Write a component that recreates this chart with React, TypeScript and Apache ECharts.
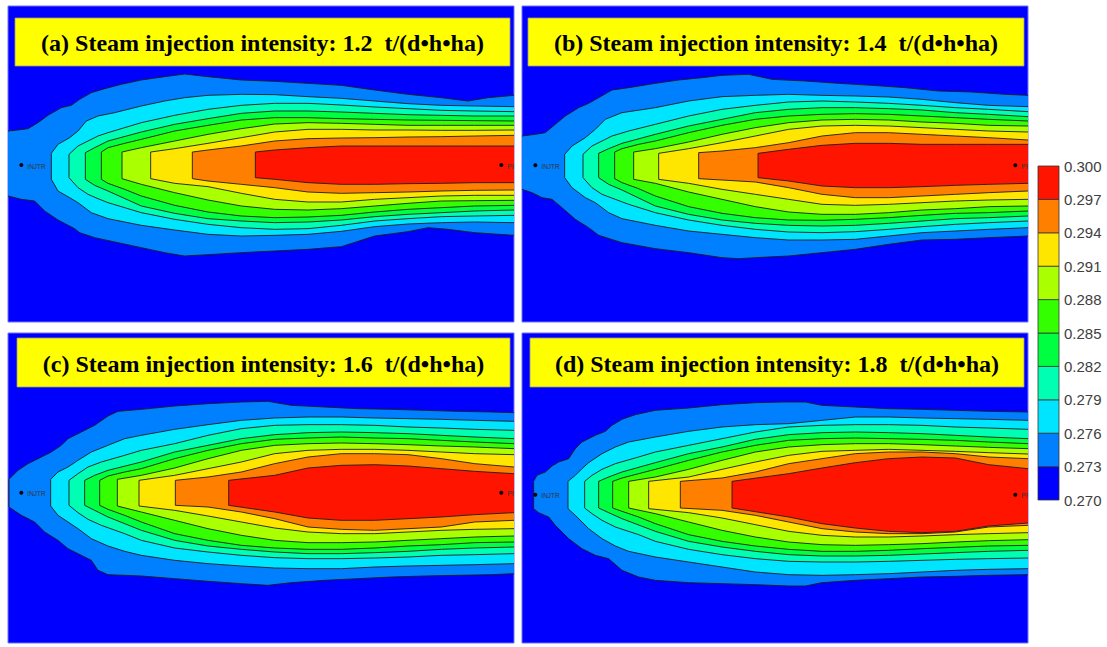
import React, { useEffect, useRef } from "react";
import * as echarts from "echarts";

// ---------- data (contour outlines, in grid units) ----------
const LEVELS = [270, 273, 276, 279, 282, 285, 288, 291, 294, 297, 300]; // x 0.001
const LEVEL_COLORS = [
  "#0000FF", "#0080FF", "#00E5FF", "#00FFB2", "#00FF40",
  "#33FF00", "#AAFF00", "#FFE600", "#FF8000", "#FF1400",
];
const TITLES = [
  "(a) Steam injection intensity: 1.2  t/(d•h•ha)",
  "(b) Steam injection intensity: 1.4  t/(d•h•ha)",
  "(c) Steam injection intensity: 1.6  t/(d•h•ha)",
  "(d) Steam injection intensity: 1.8  t/(d•h•ha)",
];
const WELL_NAMES = ["INJTR", "PR"];
const WELL_X = [40, 1480];
const WELL_Y = [297, 298, 302, 308];

// Panel (a)
const A_TOP = [
  [[0,195],[30,192],[60,188],[90,170],[120,148],[160,125],[190,118],[215,100],[250,80],[290,68],[340,55],[400,42],[470,32],[530,24],[600,32],[700,42],[800,46],[900,52],[1000,58],[1100,72],[1200,85],[1300,95],[1380,105],[1440,95],[1518,88]],
  [[130,262],[150,235],[185,215],[210,195],[235,165],[270,150],[320,140],[400,120],[470,105],[530,95],[600,88],[700,85],[800,86],[900,92],[1000,97],[1100,105],[1200,113],[1300,118],[1400,120],[1518,122]],
  [[183,265],[210,240],[240,225],[270,210],[300,200],[400,170],[500,148],[600,130],[700,118],[800,112],[900,112],[1000,117],[1100,123],[1200,128],[1300,133],[1400,135],[1518,137]],
  [[232,260],[260,245],[300,225],[400,198],[500,175],[600,158],[700,142],[800,135],[900,135],[1000,138],[1100,142],[1200,146],[1300,148],[1400,150],[1518,150]],
  [[280,258],[300,245],[350,232],[400,220],[500,195],[600,178],[700,162],[800,155],[900,155],[1000,158],[1100,160],[1200,162],[1300,163],[1400,164],[1518,165]],
  [[342,258],[400,245],[500,225],[600,205],[700,188],[800,174],[900,170],[1000,172],[1100,175],[1200,178],[1300,178],[1400,178],[1518,178]],
  [[428,258],[500,248],[600,232],[700,215],[800,198],[900,190],[1000,190],[1100,192],[1200,192],[1300,193],[1400,193],[1518,192]],
  [[553,258],[600,252],[700,240],[800,225],[900,218],[1000,216],[1100,215],[1200,213],[1300,212],[1400,210],[1518,208]],
  [[742,258],[800,252],[900,245],[1000,240],[1100,240],[1200,240],[1300,240],[1400,240],[1518,240]],
];
const A_BOT = [
  [[0,390],[40,400],[80,405],[110,435],[150,462],[200,488],[215,500],[260,515],[330,530],[400,545],[470,560],[530,570],[600,566],[700,560],[800,555],[900,550],[1000,542],[1100,510],[1200,497],[1260,485],[1320,490],[1400,500],[1518,508]],
  [[130,340],[150,375],[185,395],[210,410],[250,440],[300,458],[400,478],[500,492],[600,505],[700,510],[800,508],[900,505],[1000,496],[1100,482],[1200,474],[1300,470],[1400,468],[1518,470]],
  [[183,335],[210,365],[240,385],[270,398],[300,410],[400,440],[500,460],[600,475],[700,485],[800,490],[900,488],[1000,478],[1100,465],[1200,458],[1300,452],[1400,450],[1518,448]],
  [[232,340],[260,358],[300,375],[400,420],[500,442],[600,458],[700,465],[800,470],[900,468],[1000,462],[1100,452],[1200,445],[1300,440],[1400,435],[1518,432]],
  [[280,340],[300,352],[350,370],[400,390],[500,418],[600,438],[700,450],[800,455],[900,453],[1000,448],[1100,438],[1200,430],[1300,425],[1400,420],[1518,418]],
  [[342,338],[400,355],[500,380],[600,402],[700,420],[800,430],[900,432],[1000,428],[1100,420],[1200,412],[1300,405],[1400,404],[1518,403]],
  [[428,338],[500,352],[600,362],[700,382],[800,400],[900,408],[1000,408],[1100,400],[1200,395],[1300,390],[1400,388],[1518,388]],
  [[553,338],[600,345],[700,355],[800,365],[900,378],[1000,382],[1100,380],[1200,378],[1300,375],[1400,373],[1518,372]],
  [[742,335],[800,340],[900,350],[1000,355],[1100,355],[1200,353],[1300,352],[1400,350],[1518,350]],
];

// Panel (b)
const B_TOP = [
  [[0,210],[40,205],[70,200],[100,175],[130,150],[170,125],[200,112],[230,95],[270,72],[320,65],[400,52],[470,42],[540,35],[600,28],[680,25],[750,40],[850,45],[950,52],[1050,58],[1150,65],[1250,75],[1350,78],[1450,85],[1518,88]],
  [[128,265],[150,240],[190,215],[220,190],[250,160],[300,140],[400,125],[500,105],[600,92],[700,88],[800,85],[900,88],[1000,90],[1100,93],[1200,100],[1300,110],[1400,118],[1518,122]],
  [[183,265],[210,240],[240,225],[270,210],[320,195],[400,175],[500,150],[600,130],[700,118],[800,108],[900,105],[1000,108],[1100,112],[1200,118],[1300,125],[1400,130],[1518,137]],
  [[230,262],[260,248],[300,232],[400,205],[500,180],[600,160],[700,140],[800,130],[900,125],[1000,125],[1100,128],[1200,132],[1300,140],[1400,145],[1518,152]],
  [[278,258],[300,248],[350,235],[400,225],[500,200],[600,178],[700,160],[800,150],[900,145],[1000,143],[1100,145],[1200,150],[1300,155],[1400,160],[1518,165]],
  [[335,258],[400,248],[500,228],[600,205],[700,185],[800,170],[900,162],[1000,160],[1100,162],[1200,168],[1300,172],[1400,178],[1518,180]],
  [[410,262],[500,248],[600,230],[700,210],[800,190],[900,180],[1000,178],[1100,180],[1200,185],[1300,190],[1400,195],[1518,198]],
  [[530,260],[600,255],[700,245],[800,230],[900,210],[1000,200],[1100,200],[1200,205],[1300,210],[1400,215],[1518,222]],
  [[708,262],[800,250],[900,238],[1000,232],[1100,232],[1200,235],[1300,235],[1400,235],[1518,235]],
];
const B_BOT = [
  [[0,370],[30,380],[60,395],[90,400],[120,425],[160,460],[200,485],[230,508],[300,530],[400,548],[500,560],[600,575],[650,578],[700,575],[800,570],[900,560],[1000,550],[1100,535],[1200,522],[1300,520],[1400,515],[1518,510]],
  [[128,335],[150,365],[190,395],[220,410],[260,440],[300,458],[400,478],[500,495],[600,505],[700,515],[800,522],[900,522],[1000,520],[1100,510],[1200,500],[1300,495],[1400,490],[1518,485]],
  [[183,335],[210,365],[240,385],[280,400],[320,415],[400,440],[500,462],[600,478],[700,490],[800,498],[900,500],[1000,497],[1100,490],[1200,482],[1300,475],[1400,470],[1518,465]],
  [[230,335],[260,355],[300,372],[400,420],[500,445],[600,462],[700,472],[800,478],[900,480],[1000,478],[1100,472],[1200,465],[1300,458],[1400,455],[1518,450]],
  [[278,338],[300,350],[350,368],[400,390],[500,422],[600,442],[700,455],[800,462],[900,463],[1000,460],[1100,455],[1200,448],[1300,442],[1400,440],[1518,435]],
  [[335,340],[400,352],[500,378],[600,400],[700,422],[800,438],[900,445],[1000,445],[1100,440],[1200,432],[1300,428],[1400,422],[1518,420]],
  [[410,340],[500,352],[600,370],[700,385],[800,400],[900,415],[1000,418],[1100,415],[1200,410],[1300,405],[1400,402],[1518,400]],
  [[530,338],[600,342],[700,348],[800,365],[900,385],[1000,395],[1100,395],[1200,390],[1300,385],[1400,380],[1518,375]],
  [[708,335],[800,345],[900,360],[1000,365],[1100,365],[1200,362],[1300,358],[1400,355],[1518,352]],
];

// Panel (c)
const C_TOP = [
  [[3,262],[30,235],[60,215],[100,195],[130,180],[160,160],[180,140],[220,120],[260,100],[300,72],[330,58],[400,52],[500,42],[600,35],[700,30],[780,28],[850,40],[950,45],[1050,50],[1150,52],[1250,55],[1350,58],[1450,60],[1518,62]],
  [[128,262],[150,240],[180,225],[210,205],[250,180],[300,160],[350,140],[400,130],[500,112],[600,98],[700,85],[800,78],[900,75],[1000,75],[1100,78],[1200,80],[1300,82],[1400,85],[1518,88]],
  [[183,265],[210,245],[240,225],[280,210],[350,190],[400,175],[500,155],[600,130],[700,110],[800,100],[900,98],[1000,98],[1100,100],[1200,105],[1300,108],[1400,112],[1518,115]],
  [[230,265],[260,250],[300,235],[400,210],[500,180],[600,160],[700,140],[800,128],[900,122],[1000,120],[1100,122],[1200,125],[1300,130],[1400,135],[1518,140]],
  [[275,265],[300,252],[350,240],[400,230],[500,200],[600,175],[700,155],[800,142],[900,138],[1000,135],[1100,138],[1200,140],[1300,145],[1400,150],[1518,155]],
  [[328,262],[400,250],[500,228],[600,200],[700,175],[800,160],[900,155],[1000,153],[1100,155],[1200,158],[1300,162],[1400,165],[1518,170]],
  [[393,265],[500,250],[600,230],[700,210],[800,185],[900,175],[1000,172],[1100,172],[1200,175],[1300,180],[1400,185],[1518,188]],
  [[502,265],[600,255],[700,240],[800,215],[900,195],[1000,185],[1100,185],[1200,188],[1300,200],[1400,215],[1518,225]],
  [[662,265],[800,250],[900,228],[1000,220],[1100,218],[1200,222],[1300,230],[1400,238],[1518,245]],
];
const C_BOT = [
  [[3,345],[40,370],[80,390],[110,420],[150,445],[180,470],[220,490],[250,505],[270,535],[300,548],[400,552],[500,560],[600,568],[700,575],[780,580],[850,572],[950,565],[1050,560],[1150,555],[1250,552],[1350,550],[1450,548],[1518,545]],
  [[128,342],[150,370],[180,390],[210,410],[250,440],[300,462],[350,478],[400,490],[500,505],[600,515],[700,522],[800,528],[900,530],[1000,530],[1100,525],[1200,522],[1300,520],[1400,518],[1518,515]],
  [[183,340],[210,362],[240,382],[280,400],[350,425],[400,445],[500,468],[600,480],[700,490],[800,497],[900,500],[1000,500],[1100,498],[1200,495],[1300,490],[1400,488],[1518,485]],
  [[230,340],[260,355],[300,375],[400,415],[500,445],[600,462],[700,472],[800,480],[900,485],[1000,485],[1100,482],[1200,478],[1300,472],[1400,468],[1518,465]],
  [[275,340],[300,352],[350,370],[400,390],[500,425],[600,445],[700,460],[800,468],[900,472],[1000,472],[1100,468],[1200,462],[1300,458],[1400,452],[1518,450]],
  [[328,342],[400,360],[500,385],[600,410],[700,430],[800,445],[900,452],[1000,452],[1100,450],[1200,445],[1300,440],[1400,435],[1518,432]],
  [[393,342],[500,355],[600,372],[700,390],[800,408],[900,420],[1000,425],[1100,425],[1200,420],[1300,415],[1400,412],[1518,410]],
  [[502,340],[600,345],[700,360],[800,380],[900,405],[1000,412],[1100,415],[1200,410],[1300,405],[1400,390],[1518,385]],
  [[662,340],[800,360],[900,378],[1000,385],[1100,385],[1200,380],[1300,375],[1400,368],[1518,362]],
];

// Panel (d)
const D_TOP = [
  [[35,268],[45,250],[70,240],[90,222],[110,210],[140,200],[160,170],[180,150],[220,130],[250,118],[270,100],[300,82],[340,68],[400,55],[500,48],[600,38],[700,32],[780,30],[850,30],[900,40],[1000,45],[1100,50],[1200,52],[1300,55],[1400,58],[1518,60]],
  [[138,268],[160,250],[180,230],[200,212],[240,185],[280,165],[320,150],[400,135],[500,118],[600,105],[700,98],[800,95],[900,85],[1000,75],[1100,75],[1200,78],[1300,80],[1400,82],[1518,85]],
  [[188,268],[210,250],[240,232],[280,215],[350,195],[400,180],[500,160],[600,140],[700,120],[800,105],[900,100],[1000,98],[1100,98],[1200,100],[1300,105],[1400,108],[1518,112]],
  [[230,268],[260,255],[300,240],[400,212],[500,185],[600,165],[700,142],[800,128],[900,122],[1000,120],[1100,122],[1200,125],[1300,130],[1400,135],[1518,140]],
  [[272,268],[300,258],[350,245],[400,232],[500,205],[600,180],[700,160],[800,145],[900,140],[1000,138],[1100,140],[1200,142],[1300,145],[1400,150],[1518,155]],
  [[320,268],[400,255],[500,232],[600,205],[700,180],[800,165],[900,158],[1000,155],[1100,155],[1200,158],[1300,162],[1400,166],[1518,170]],
  [[380,268],[500,255],[600,232],[700,210],[800,190],[900,178],[1000,175],[1100,172],[1200,175],[1300,178],[1400,182],[1518,186]],
  [[475,268],[600,258],[700,240],[800,215],[900,200],[1000,185],[1100,180],[1200,180],[1300,185],[1400,195],[1518,200]],
  [[630,268],[800,245],[900,228],[1000,212],[1100,200],[1200,195],[1300,198],[1400,218],[1518,230]],
];
const D_BOT = [
  [[35,350],[50,362],[80,375],[100,400],[140,440],[180,470],[220,490],[260,500],[300,535],[350,555],[400,565],[500,572],[600,575],[700,578],[800,582],[850,582],[900,572],[1000,565],[1100,560],[1200,555],[1300,553],[1400,550],[1518,548]],
  [[138,350],[160,370],[180,390],[200,410],[240,440],[280,462],[320,478],[400,495],[500,510],[600,525],[700,540],[800,548],[900,550],[1000,548],[1100,545],[1200,540],[1300,535],[1400,532],[1518,530]],
  [[188,348],[210,365],[240,385],[280,405],[350,428],[400,448],[500,472],[600,488],[700,500],[800,508],[900,510],[1000,510],[1100,508],[1200,505],[1300,502],[1400,500],[1518,498]],
  [[230,348],[260,362],[300,380],[400,418],[500,448],[600,465],[700,478],[800,488],[900,492],[1000,492],[1100,490],[1200,486],[1300,482],[1400,478],[1518,475]],
  [[272,348],[300,358],[350,375],[400,395],[500,428],[600,448],[700,462],[800,472],[900,478],[1000,478],[1100,475],[1200,470],[1300,466],[1400,462],[1518,460]],
  [[320,348],[400,365],[500,390],[600,415],[700,435],[800,450],[900,458],[1000,460],[1100,458],[1200,455],[1300,450],[1400,446],[1518,443]],
  [[380,350],[500,362],[600,378],[700,398],[800,418],[900,430],[1000,435],[1100,435],[1200,432],[1300,428],[1400,425],[1518,422]],
  [[475,348],[600,355],[700,370],[800,390],[900,410],[1000,420],[1100,425],[1200,425],[1300,420],[1400,405],[1518,400]],
  [[630,348],[800,375],[900,395],[1000,408],[1100,418],[1200,422],[1300,418],[1400,402],[1518,393]],
];

const PANEL_TOPS = [A_TOP, B_TOP, C_TOP, D_TOP];
const PANEL_BOTS = [A_BOT, B_BOT, C_BOT, D_BOT];

// ---------- layout ----------
const GRIDS = [
  { left: 8, top: 6, width: 506, height: 316, ymin: -180, ymax: 768 },
  { left: 522, top: 6, width: 506, height: 316, ymin: -180, ymax: 768 },
  { left: 8, top: 333, width: 506, height: 310, ymin: -177, ymax: 753 },
  { left: 522, top: 333, width: 506, height: 310, ymin: -177, ymax: 753 },
];
const TITLE_BOXES = [
  { x: 15, y: 18, w: 495, h: 48 },
  { x: 528, y: 18, w: 496, h: 48 },
  { x: 17, y: 338, w: 493, h: 49 },
  { x: 530, y: 338, w: 494, h: 49 },
];
const XMIN = 0;
const XMAX = 1518;

function contourSeries(p: number) {
  const tops = PANEL_TOPS[p];
  const bots = PANEL_BOTS[p];
  return {
    type: "custom",
    xAxisIndex: p,
    yAxisIndex: p,
    clip: true,
    silent: true,
    z: 2,
    data: tops.map((t: number[][], i: number) => [t[0][0], t[0][1], i]),
    renderItem: (params: any, api: any) => {
      const i = params.dataIndex;
      const top = tops[i];
      const bot = bots[i];
      const tp = top.map((q: number[]) => api.coord(q));
      const bp = bot.map((q: number[]) => api.coord(q));
      const pts: number[][] = [];
      if (top[0][0] <= XMIN) pts.push([tp[0][0] - 20, tp[0][1]]);
      pts.push(...tp);
      const lt = tp[tp.length - 1];
      const lb = bp[bp.length - 1];
      if (top[top.length - 1][0] >= XMAX) pts.push([lt[0] + 20, lt[1]]);
      if (bot[bot.length - 1][0] >= XMAX) pts.push([lb[0] + 20, lb[1]]);
      pts.push(...bp.slice().reverse());
      if (bot[0][0] <= XMIN) pts.push([bp[0][0] - 20, bp[0][1]]);
      return {
        type: "polygon",
        shape: { points: pts },
        style: { fill: LEVEL_COLORS[i + 1], stroke: "#1c1c1c", lineWidth: 0.9 },
      };
    },
  };
}

function wellSeries(p: number) {
  return {
    type: "custom",
    xAxisIndex: p,
    yAxisIndex: p,
    clip: true,
    silent: true,
    z: 5,
    data: WELL_X.map((x, i) => [x, WELL_Y[p], i]),
    renderItem: (params: any, api: any) => {
      const c = api.coord([api.value(0), api.value(1)]);
      return {
        type: "group",
        children: [
          { type: "circle", shape: { cx: c[0], cy: c[1], r: 2 }, style: { fill: "#000" } },
          {
            type: "text",
            x: c[0] + 6,
            y: c[1] + 1,
            style: {
              text: WELL_NAMES[params.dataIndex],
              fontSize: 6.5,
              fontFamily: "Liberation Sans",
              fill: "#333",
              verticalAlign: "middle",
              align: "left",
            },
          },
        ],
      };
    },
  };
}

function buildOption() {
  const grid: any[] = GRIDS.map((g) => ({
    left: g.left,
    top: g.top,
    width: g.width,
    height: g.height,
    show: true,
    backgroundColor: "#0000FF",
    borderColor: "#7070FF",
    borderWidth: 1,
  }));
  grid.push({ left: 1038, top: 166, width: 21, height: 334, show: false });

  const xAxis: any[] = GRIDS.map((_, i) => ({
    type: "value", gridIndex: i, min: XMIN, max: XMAX, show: false,
  }));
  xAxis.push({ type: "value", gridIndex: 4, min: 0, max: 1, show: false });

  const yAxis: any[] = GRIDS.map((g, i) => ({
    type: "value", gridIndex: i, min: g.ymin, max: g.ymax, inverse: true, show: false,
  }));
  yAxis.push({
    type: "value",
    gridIndex: 4,
    min: LEVELS[0],
    max: LEVELS[LEVELS.length - 1],
    interval: 3,
    position: "right",
    axisLine: { show: false },
    axisTick: { show: false },
    splitLine: { show: false },
    axisLabel: {
      formatter: (v: number) => (v / 1000).toFixed(3),
      fontSize: 15,
      fontFamily: "Liberation Sans",
      color: "#404040",
      margin: 5,
    },
  });

  const series: any[] = [];
  for (let p = 0; p < 4; p++) {
    series.push(contourSeries(p));
    series.push(wellSeries(p));
  }
  series.push({
    type: "custom",
    xAxisIndex: 4,
    yAxisIndex: 4,
    silent: true,
    data: LEVELS.slice(0, -1).map((lo, i) => [lo, LEVELS[i + 1]]),
    renderItem: (params: any, api: any) => {
      const p1 = api.coord([0, api.value(1)]);
      const p2 = api.coord([1, api.value(0)]);
      return {
        type: "rect",
        shape: { x: p1[0], y: p1[1], width: p2[0] - p1[0], height: p2[1] - p1[1] },
        style: { fill: LEVEL_COLORS[params.dataIndex], stroke: "#333", lineWidth: 0.8 },
      };
    },
  });

  const graphic = TITLE_BOXES.map((b, i) => ({
    type: "group",
    z: 100,
    children: [
      {
        type: "rect",
        z: 100,
        shape: { x: b.x, y: b.y, width: b.w, height: b.h },
        style: { fill: "#FFFF00", stroke: "#9a9a7a", lineWidth: 0.8 },
      },
      {
        type: "text",
        z: 101,
        x: b.x + b.w / 2,
        y: b.y + b.h / 2 + 1,
        style: {
          text: TITLES[i],
          fontSize: 24,
          fontWeight: "bold",
          fontFamily: "Liberation Serif",
          fill: "#000",
          align: "center",
          verticalAlign: "middle",
        },
      },
    ],
  }));

  return {
    animation: false,
    backgroundColor: "#ffffff",
    grid,
    xAxis,
    yAxis,
    series,
    graphic,
  };
}

export default function App() {
  const ref = useRef<HTMLDivElement>(null);
  useEffect(() => {
    const chart = echarts.init(ref.current as HTMLDivElement, null, { renderer: "svg" });
    chart.setOption(buildOption() as any);
    return () => chart.dispose();
  }, []);
  return (
    <div
      ref={ref}
      style={{ position: "absolute", left: 0, top: 0, width: 1107, height: 647, background: "#fff" }}
    />
  );
}
